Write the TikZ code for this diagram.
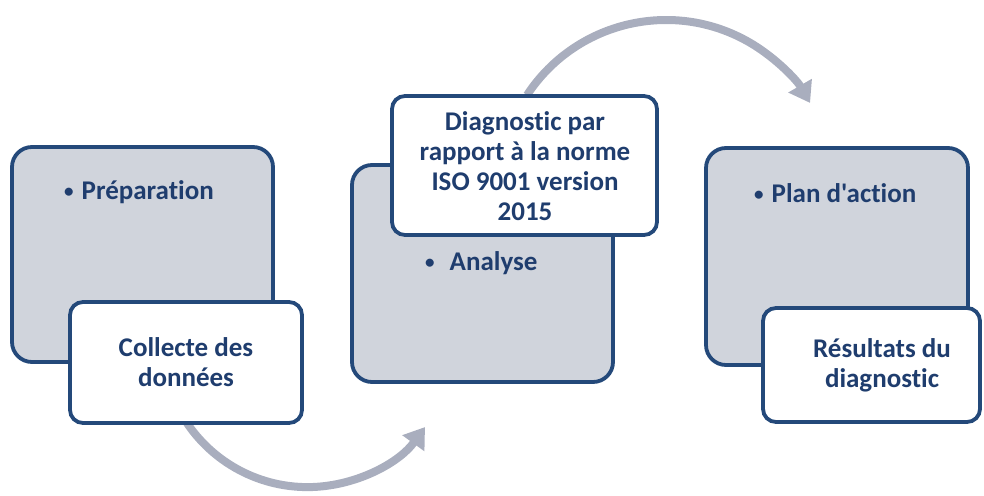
\documentclass[tikz,border=0pt]{standalone}
\usepackage{fontspec}
\setmainfont{Carlito}[Ligatures={TeXOff,NoCommon}]
\usetikzlibrary{arrows.meta}
\definecolor{navy}{HTML}{24497A}
\definecolor{txt}{HTML}{1F3D6E}
\definecolor{grayfill}{HTML}{D0D4DC}
\definecolor{arrowgray}{HTML}{A9AEBE}
\newcommand{\smallbul}{\raisebox{2pt}{\fontsize{19}{19}\selectfont •}}
\begin{document}
\begin{tikzpicture}[x=1pt,y=1pt,
  graybox/.style={draw=navy,line width=3.8pt,fill=grayfill,rounded corners=20pt},
  whitebox/.style={draw=navy,line width=3.8pt,fill=white,rounded corners=13pt},
  lbl/.style={text=txt,font=\fontsize{27}{30}\selectfont\bfseries,align=center,inner sep=0pt},
  bul/.style={text=txt,font=\fontsize{27}{30}\selectfont\bfseries,anchor=west,inner sep=0pt},
  curved/.style={draw=arrowgray,line width=8pt,-{Triangle[length=20pt,width=26pt]}}]
\useasboundingbox (0,0) rectangle (984,-495);
% arrows
\coordinate (c1) at (666.1,-186.4);
\coordinate (c2) at (307.4,-341.9);
\draw[curved] ([shift={(146.7:166.4)}]c1) arc[start angle=146.7,end angle=30.1,radius=166.4];
\draw[curved] ([shift={(214:145.2)}]c2) arc[start angle=214,end angle=324.1,radius=145.2];
% boxes
\path[graybox] (12,-147) rectangle (273,-362);
\path[whitebox] (70,-302) rectangle (302,-423);
\node[lbl] (w1) at (186,-362) {Collecte des\\données};
\node[bul] (t1) at (64,-192) {\smallbul\hspace{8pt}Préparation};

\path[graybox] (352,-165) rectangle (613,-382);
\node[bul] (t2) at (425,-263) {\smallbul\hspace{15pt}Analyse};
\path[whitebox] (392,-96) rectangle (657,-235);
\node[lbl] (w2) at (525,-166) {Diagnostic par\\rapport à la norme\\ISO 9001 version\\2015};

\path[graybox] (706,-148) rectangle (968,-365);
\node[bul] (t3) at (754,-193) {\smallbul\hspace{8pt}Plan d'action};
\path[whitebox] (763,-308) rectangle (980,-422);
\node[lbl] (w3) at (882,-365) {Résultats du\\diagnostic};
\end{tikzpicture}
\end{document}
